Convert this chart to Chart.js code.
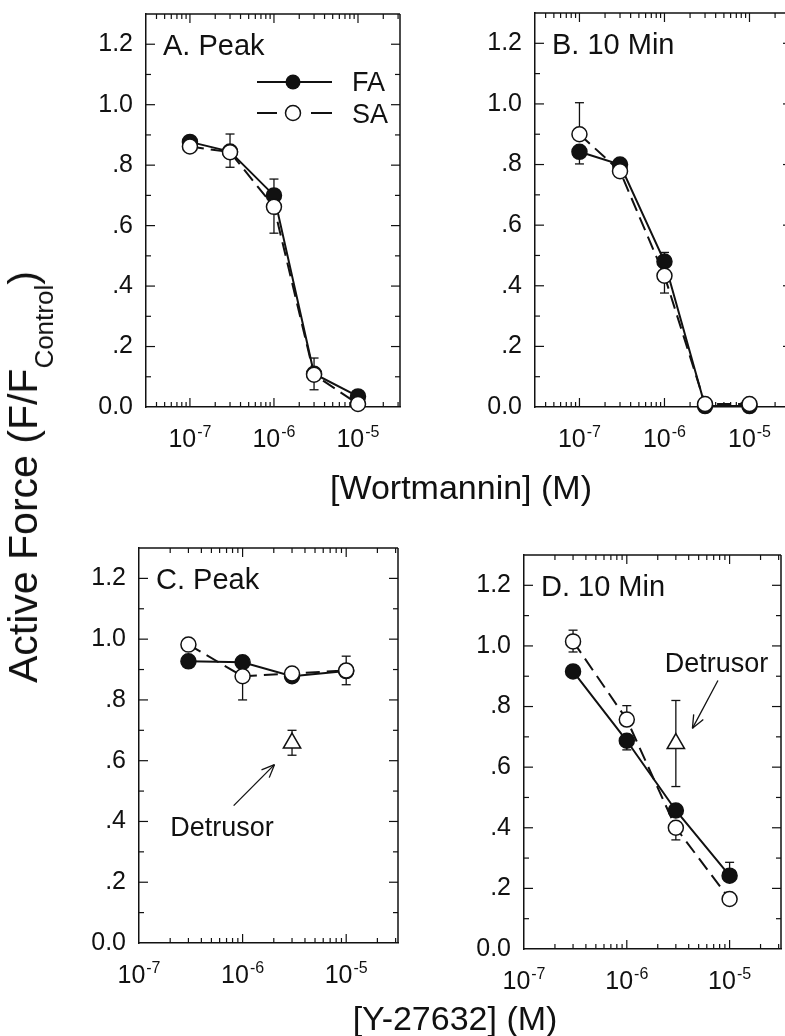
<!DOCTYPE html>
<html>
<head>
<meta charset="utf-8">
<script src="https://cdn.jsdelivr.net/npm/chart.js@4.4.1/dist/chart.umd.min.js"></script>
<style>
  html, body { margin: 0; padding: 0; background: #fff; width: 785px; height: 1036px; overflow: hidden; }
  body { font-family: "Liberation Sans", Arial, Helvetica, sans-serif; color: #111; }
  #page { position: relative; width: 785px; height: 1036px; overflow: hidden; }
  canvas { position: absolute; }
  .title { position: absolute; white-space: nowrap; line-height: 1; z-index: 5; }
  #ytitle { font-size: 41px; left: 30px; top: 477px; transform: translate(-50%, -50%) rotate(-90deg); }
  #ytitle sub { font-size: 26px; vertical-align: -16px; }
  .xtitle { font-size: 34px; transform: translateX(-50%); }
</style>
</head>
<body>
<div id="page">
<div id="ytitle" class="title">Active Force (F/F<sub>Control</sub>)</div>
<div class="title xtitle" style="left:461px; top:470px">[Wortmannin] (M)</div>
<div class="title xtitle" style="left:455px; top:1001px">[Y-27632] (M)</div>
</div>
<script>
  const FONT = '"Liberation Sans", Arial, Helvetica, sans-serif';
  const INK = '#111';

  // --- tick labels ---
  const yTickValues = [0, 0.2, 0.4, 0.6, 0.8, 1.0, 1.2];
  const yTickLabels = ['0.0', '.2', '.4', '.6', '.8', '1.0', '1.2'];
  const decadeExps = [-7, -6, -5];

  // --- wortmannin (panels A, B) ---
  const wortConc = [1e-7, 3e-7, 1e-6, 3e-6, 1e-5];
  const wPeakFA = [0.877, 0.845, 0.70, 0.11, 0.035];
  const wPeakFAUp = [0.01, 0, 0.054, 0, 0];
  const wPeakFADown = [0, 0, 0, 0, 0];
  const wPeakSA = [0.862, 0.843, 0.662, 0.107, 0.01];
  const wPeakSAUp = [0, 0.06, 0, 0.055, 0];
  const wPeakSADown = [0, 0.05, 0.087, 0.05, 0];
  const wTenFA = [0.842, 0.80, 0.48, 0.003, 0.003];
  const wTenFAUp = [0, 0, 0.03, 0, 0];
  const wTenFADown = [0.04, 0, 0, 0, 0];
  const wTenSA = [0.90, 0.778, 0.433, 0.01, 0.01];
  const wTenSAUp = [0.104, 0, 0, 0, 0];
  const wTenSADown = [0, 0, 0.057, 0, 0];

  // --- Y-27632 (panels C, D) ---
  const yConc = [3e-7, 1e-6, 3e-6, 1e-5];
  const yPeakFA = [0.927, 0.924, 0.878, 0.895];
  const yPeakFAUp = [0, 0, 0, 0];
  const yPeakFADown = [0, 0, 0, 0];
  const yPeakSA = [0.982, 0.878, 0.887, 0.897];
  const yPeakSAUp = [0, 0, 0, 0.047];
  const yPeakSADown = [0, 0.078, 0, 0.047];
  const yTenFA = [0.916, 0.687, 0.457, 0.242];
  const yTenFAUp = [0, 0, 0, 0.044];
  const yTenFADown = [0, 0.03, 0, 0];
  const yTenSA = [1.015, 0.757, 0.40, 0.165];
  const yTenSAUp = [0.037, 0.046, 0, 0];
  const yTenSADown = [0.035, 0, 0.04, 0];

  // detrusor reference point
  const detConc = [3e-6];
  const detPeak = [0.658];
  const detPeakUp = [0.042];
  const detPeakDown = [0.04];
  const detTen = [0.678];
  const detTenUp = [0.142];
  const detTenDown = [0.142];

  // margins of each canvas around its plot box
  const ML = 110, MT = 40, MR = 40, MB = 90;

  function pts(xs, ys) {
    return xs.map((x, i) => ({ x, y: ys[i] }));
  }

  function faSet(xs, ys, up, down) {
    return {
      label: 'FA', data: pts(xs, ys), errUp: up, errDown: down,
      borderColor: INK, borderWidth: 2, tension: 0, clip: false, order: 1,
      pointRadius: 7.5, pointHoverRadius: 7.5, pointBorderWidth: 1.5,
      pointBackgroundColor: INK, pointBorderColor: INK,
    };
  }

  function saSet(xs, ys, up, down) {
    return {
      label: 'SA', data: pts(xs, ys), errUp: up, errDown: down,
      borderColor: INK, borderWidth: 2, borderDash: [14, 7], tension: 0, clip: false, order: 0,
      pointRadius: 7.5, pointHoverRadius: 7.5, pointBorderWidth: 1.5,
      pointBackgroundColor: '#fff', pointBorderColor: INK,
    };
  }

  function detSet(xs, ys, up, down) {
    return {
      label: 'Detrusor', data: pts(xs, ys), errUp: up, errDown: down,
      showLine: false, clip: false, order: 2, pointStyle: 'triangle',
      pointRadius: 10, pointHoverRadius: 10, pointBorderWidth: 1.5,
      pointBackgroundColor: '#fff', pointBorderColor: INK, borderColor: INK,
    };
  }

  function yLabel(v) {
    const i = yTickValues.findIndex((t) => Math.abs(t - v) < 1e-6);
    return i < 0 ? '' : yTickLabels[i];
  }

  function seg(ctx, x1, y1, x2, y2) {
    ctx.beginPath();
    ctx.moveTo(x1, y1);
    ctx.lineTo(x2, y2);
    ctx.stroke();
  }

  const deco = {
    id: 'deco',
    beforeDatasetsDraw(chart, args, o) {
      const { ctx, chartArea: a } = chart;
      const xs = chart.scales.x, ys = chart.scales.y;
      ctx.save();
      ctx.strokeStyle = INK;
      ctx.fillStyle = INK;

      // top and right frame
      ctx.lineWidth = 1.5;
      seg(ctx, a.left, a.top, a.right, a.top);
      seg(ctx, a.right, a.top, a.right, a.bottom);

      // inward y ticks on both sides
      ctx.lineWidth = 1.2;
      for (let k = 1; k <= 12; k += 1) {
        const py = ys.getPixelForValue(k / 10);
        const len = k % 2 === 0 ? 9 : 5;
        seg(ctx, a.left, py, a.left + len, py);
        seg(ctx, a.right, py, a.right - len, py);
      }

      // inward log ticks on bottom and top
      const lo = Math.floor(Math.log10(xs.min)), hi = Math.ceil(Math.log10(xs.max));
      for (let e = lo; e <= hi; e += 1) {
        for (let k = 1; k <= 9; k += 1) {
          const v = k * Math.pow(10, e);
          if (v <= xs.min * 1.0001 || v >= xs.max * 0.9999) continue;
          const px = xs.getPixelForValue(v);
          const len = k === 1 ? 9 : 5;
          seg(ctx, px, a.bottom, px, a.bottom - len);
          seg(ctx, px, a.top, px, a.top + len);
        }
      }

      // decade labels 10^n
      ctx.textBaseline = 'alphabetic';
      ctx.textAlign = 'left';
      decadeExps.forEach((e) => {
        const px = xs.getPixelForValue(Math.pow(10, e));
        ctx.font = `25px ${FONT}`;
        const w1 = ctx.measureText('10').width;
        ctx.font = `16px ${FONT}`;
        const sup = '-' + String(-e);
        const w2 = ctx.measureText(sup).width;
        const x0 = px - (w1 + 1 + w2) / 2;
        const base = a.bottom + 40;
        ctx.font = `25px ${FONT}`;
        ctx.fillText('10', x0, base);
        ctx.font = `16px ${FONT}`;
        ctx.fillText(sup, x0 + w1 + 1, base - 10);
      });

      // error bars
      ctx.lineWidth = 1.3;
      chart.data.datasets.forEach((ds) => {
        if (!ds.errUp) return;
        ds.data.forEach((p, i) => {
          const px = xs.getPixelForValue(p.x);
          const py0 = ys.getPixelForValue(p.y);
          [[ds.errUp[i], 1], [ds.errDown[i], -1]].forEach(([err, s]) => {
            if (!err) return;
            const py1 = ys.getPixelForValue(p.y + s * err);
            seg(ctx, px, py0, px, py1);
            seg(ctx, px - 4.5, py1, px + 4.5, py1);
          });
        });
      });

      // panel title
      ctx.font = `29px ${FONT}`;
      ctx.fillText(o.title, a.left + 17, a.top + 41);

      // legend (panel A only)
      if (o.legend) {
        const lx0 = a.left + 111, lx1 = a.left + 186, mx = a.left + 147;
        const fy = a.top + 68, sy = a.top + 99;
        ctx.lineWidth = 2;
        seg(ctx, lx0, fy, lx1, fy);
        ctx.beginPath();
        ctx.arc(mx, fy, 7.5, 0, Math.PI * 2);
        ctx.fill();
        seg(ctx, lx0, sy, lx0 + 20, sy);
        seg(ctx, lx1 - 21, sy, lx1, sy);
        ctx.lineWidth = 1.5;
        ctx.beginPath();
        ctx.arc(mx, sy, 7.5, 0, Math.PI * 2);
        ctx.fillStyle = '#fff';
        ctx.fill();
        ctx.stroke();
        ctx.fillStyle = INK;
        ctx.font = `27px ${FONT}`;
        ctx.fillText('FA', a.left + 206, a.top + 77);
        ctx.fillText('SA', a.left + 206, a.top + 109);
      }

      // detrusor note with arrow
      if (o.note) {
        const n = o.note;
        ctx.font = `27px ${FONT}`;
        ctx.fillText(n.text, xs.getPixelForValue(n.at[0]), ys.getPixelForValue(n.at[1]));
        const tx = xs.getPixelForValue(n.tail[0]), ty = ys.getPixelForValue(n.tail[1]);
        const hx = xs.getPixelForValue(n.head[0]), hy = ys.getPixelForValue(n.head[1]);
        ctx.lineWidth = 1.3;
        seg(ctx, tx, ty, hx, hy);
        const ang = Math.atan2(hy - ty, hx - tx);
        [0.4, -0.4].forEach((d) => {
          seg(ctx, hx, hy, hx - 14 * Math.cos(ang + d), hy - 14 * Math.sin(ang + d));
        });
      }
      ctx.restore();
    },
  };

  const page = document.getElementById('page');

  function makePanel(p) {
    const cv = document.createElement('canvas');
    const w = p.box.r - p.box.l + ML + MR;
    const h = p.box.b - p.box.t + MT + MB;
    cv.width = w;
    cv.height = h;
    cv.style.left = (p.box.l - ML) + 'px';
    cv.style.top = (p.box.t - MT) + 'px';
    cv.style.width = w + 'px';
    cv.style.height = h + 'px';
    page.appendChild(cv);
    return new Chart(cv, {
      type: 'line',
      data: { datasets: p.datasets },
      options: {
        responsive: false,
        animation: false,
        events: [],
        layout: { autoPadding: false, padding: { left: 0, top: MT, right: MR, bottom: 0 } },
        plugins: { legend: { display: false }, tooltip: { enabled: false }, deco: p.deco },
        scales: {
          x: {
            type: 'logarithmic',
            min: Math.pow(10, p.xExp[0]),
            max: Math.pow(10, p.xExp[1]),
            ticks: { display: false },
            grid: { display: false, drawTicks: false },
            border: { display: true, color: INK, width: 1.5 },
            afterFit: (s) => { s.height = MB; },
          },
          y: {
            type: 'linear',
            min: 0,
            max: 1.3,
            ticks: {
              stepSize: 0.2, includeBounds: false, padding: 13, color: INK,
              font: { family: FONT, size: 25 }, callback: yLabel,
            },
            grid: { display: false, drawTicks: false },
            border: { display: true, color: INK, width: 1.5 },
            afterFit: (s) => { s.width = ML; },
          },
        },
      },
      plugins: [deco],
    });
  }

  makePanel({
    box: { l: 146, t: 14, r: 400, b: 407 }, xExp: [-7.5, -4.5],
    deco: { title: 'A. Peak', legend: true },
    datasets: [faSet(wortConc, wPeakFA, wPeakFAUp, wPeakFADown), saSet(wortConc, wPeakSA, wPeakSAUp, wPeakSADown)],
  });
  makePanel({
    box: { l: 535, t: 13, r: 792, b: 407 }, xExp: [-7.5, -4.5],
    deco: { title: 'B. 10 Min' },
    datasets: [faSet(wortConc, wTenFA, wTenFAUp, wTenFADown), saSet(wortConc, wTenSA, wTenSAUp, wTenSADown)],
  });
  makePanel({
    box: { l: 139, t: 548, r: 398, b: 943 }, xExp: [-7, -4.5],
    deco: {
      title: 'C. Peak',
      note: { text: 'Detrusor', at: [2.0e-7, 0.353], tail: [8.2e-7, 0.452], head: [2.03e-6, 0.587] },
    },
    datasets: [
      faSet(yConc, yPeakFA, yPeakFAUp, yPeakFADown),
      saSet(yConc, yPeakSA, yPeakSAUp, yPeakSADown),
      detSet(detConc, detPeak, detPeakUp, detPeakDown),
    ],
  });
  makePanel({
    box: { l: 524, t: 555, r: 781, b: 949 }, xExp: [-7, -4.5],
    deco: {
      title: 'D. 10 Min',
      note: { text: 'Detrusor', at: [2.34e-6, 0.915], tail: [7.7e-6, 0.886], head: [4.35e-6, 0.728] },
    },
    datasets: [
      faSet(yConc, yTenFA, yTenFAUp, yTenFADown),
      saSet(yConc, yTenSA, yTenSAUp, yTenSADown),
      detSet(detConc, detTen, detTenUp, detTenDown),
    ],
  });
</script>
</body>
</html>
